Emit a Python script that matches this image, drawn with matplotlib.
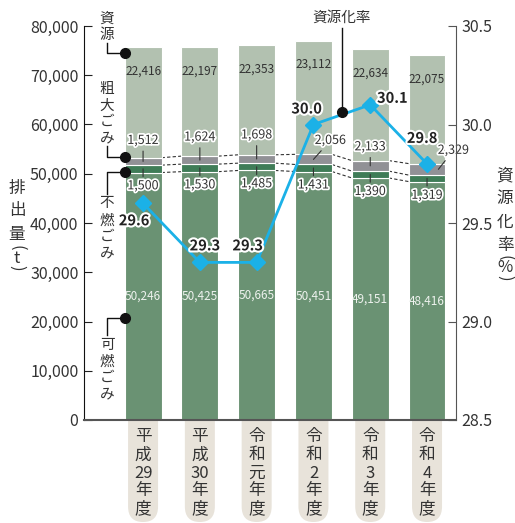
import matplotlib
matplotlib.use("Agg")
import matplotlib.pyplot as plt
import matplotlib.patheffects as pe
from matplotlib.patches import FancyBboxPatch
from matplotlib.lines import Line2D

plt.rcParams['font.family'] = ['Noto Sans CJK JP', 'DejaVu Sans']

# data
years = ['平成\n29\n年度', '平成\n30\n年度', '令和\n元\n年度', '令和\n2\n年度', '令和\n3\n年度', '令和\n4\n年度']
kanen = [50246, 50425, 50665, 50451, 49151, 48416]      # 可燃ごみ
funen = [1500, 1530, 1485, 1431, 1390, 1319]            # 不燃ごみ
sodai = [1512, 1624, 1698, 2056, 2133, 2329]            # 粗大ごみ
shigen = [22416, 22197, 22353, 23112, 22634, 22075]     # 資源
rate = [29.6, 29.3, 29.3, 30.0, 30.1, 29.8]             # 資源化率

W, H = 515, 523
C_SHIGEN = '#b2c1b0'
C_SODAI = '#919196'
C_FUNEN = '#3f7c57'
C_KANEN = '#6a9273'
C_LINE = '#1bb1e7'
C_TXT = '#333333'


def fp(x, y):
    return x / W, 1 - y / H


fig = plt.figure(figsize=(W / 100, H / 100), dpi=100)
ax = fig.add_axes([84 / W, 1 - 420 / H, (456 - 84) / W, (420 - 26) / H])
ax2 = ax.twinx()

x = list(range(len(years)))
bw = 0.65
b1 = kanen
b2 = [a + b for a, b in zip(b1, funen)]
b3 = [a + b for a, b in zip(b2, sodai)]
tops = [a + b for a, b in zip(b3, shigen)]

ax.bar(x, kanen, bw, color=C_KANEN, edgecolor='white', linewidth=0.8, zorder=2)
ax.bar(x, funen, bw, bottom=b1, color=C_FUNEN, edgecolor='white', linewidth=0.8, zorder=2)
ax.bar(x, sodai, bw, bottom=b2, color=C_SODAI, edgecolor='white', linewidth=0.8, zorder=2)
ax.bar(x, shigen, bw, bottom=b3, color=C_SHIGEN, edgecolor='white', linewidth=0.8, zorder=2)

# dashed connectors between bars
for i in range(len(x) - 1):
    for lev in (b1, b2, b3):
        ax.plot([x[i] + bw / 2, x[i + 1] - bw / 2], [lev[i], lev[i + 1]],
                ls=(0, (3, 2)), color=C_TXT, lw=0.8, zorder=1)

ax.set_xlim(-1.04, 5.51)
ax.set_ylim(0, 80000)
ax.set_yticks(range(0, 80001, 10000))
ax.set_yticklabels([f'{v:,}' for v in range(0, 80001, 10000)])
ax.set_xticks([])
ax.tick_params(axis='y', direction='in', length=6, labelsize=11.5, colors='#222', labelcolor=C_TXT, pad=4)
ax.spines['top'].set_visible(False)
ax.spines['right'].set_visible(False)
ax.spines['left'].set_color('#111')
ax.spines['bottom'].set_color('#555')
ax.spines['bottom'].set_linewidth(1.5)

ax2.set_ylim(28.5, 30.5)
ax2.set_yticks([28.5, 29.0, 29.5, 30.0, 30.5])
ax2.set_yticklabels(['28.5', '29.0', '29.5', '30.0', '30.5'])
ax2.tick_params(axis='y', direction='in', length=6, labelsize=11.5, colors='#555', labelcolor=C_TXT, pad=4)
for s in ('top', 'left', 'bottom'):
    ax2.spines[s].set_visible(False)
ax2.spines['right'].set_color('#555')

outline = [pe.withStroke(linewidth=2.5, foreground='white')]

# value labels
for i in x:
    ax.annotate(f'{shigen[i]:,}', (x[i], tops[i]), xytext=(0, -24), textcoords='offset pixels',
                ha='center', va='center', fontsize=8.5, color=C_TXT, zorder=4)
    ax.text(x[i], kanen[i] / 2, f'{kanen[i]:,}', ha='center', va='center',
            fontsize=8.5, color='#eef2ee', zorder=4)
    ax.annotate(f'{funen[i]:,}', (x[i], b1[i] + funen[i] / 2), xytext=(0, -17),
                textcoords='offset pixels', ha='center', va='center', fontsize=9,
                color=C_TXT, path_effects=outline, zorder=4,
                arrowprops=dict(arrowstyle='-', color=C_TXT, lw=0.8, shrinkA=0, shrinkB=0))

sodai_dx = [0, 0, 0, 0, 0, 0.2]
sodai_off = [(0, 21), (0, 23), (0, 24), (17, 19), (0, 19), (15, 19)]
for i in x:
    ax.annotate(f'{sodai[i]:,}', (x[i] + sodai_dx[i], b2[i] + sodai[i] / 2),
                xytext=sodai_off[i], textcoords='offset pixels', ha='center', va='center',
                fontsize=9, color=C_TXT, path_effects=outline, zorder=4,
                arrowprops=dict(arrowstyle='-', color=C_TXT, lw=0.8, shrinkA=1, shrinkB=0))

# recycling rate line
ax2.plot(x, rate, color=C_LINE, lw=2, marker='D', markersize=8, zorder=5)
rate_off = [(-9, -17), (5, 17), (-9, 17), (-7, 16), (22, 7), (-5, 26)]
for i in x:
    ax2.annotate(f'{rate[i]:.1f}', (x[i], rate[i]), xytext=rate_off[i], textcoords='offset pixels',
                 ha='center', va='center', fontsize=10.5, fontweight='bold', color='#222',
                 path_effects=[pe.withStroke(linewidth=3, foreground='white')], zorder=6)


def vtext(xp, ys, chars, size, **kw):
    for y, c in zip(ys, chars):
        fig.text(*fp(xp, y), c, ha='center', va='center', fontsize=size, color=C_TXT, **kw)


def vparen(xp, y0, inner, size):
    # vertical "(x)" : parentheses turned sideways
    fig.text(*fp(xp, y0), '(', ha='center', va='center', fontsize=size, color=C_TXT, rotation=-90)
    fig.text(*fp(xp, y0 + 10), inner, ha='center', va='center', fontsize=size, color=C_TXT)
    fig.text(*fp(xp, y0 + 20), ')', ha='center', va='center', fontsize=size, color=C_TXT, rotation=-90)


# legend labels on the left
vtext(107, [19, 35], '資源', 10.5)
vtext(107, [89, 106, 122, 138], '粗大ごみ', 10.5)
vtext(107, [203, 221, 237, 253], '不燃ごみ', 10.5)
vtext(107, [345, 362, 378, 394], '可燃ごみ', 10.5)

lk = dict(color='#111', lw=1, transform=fig.transFigure)
def leader(pts, dot):
    xs, ys = zip(*[fp(a, b) for a, b in pts])
    fig.add_artist(Line2D(xs, ys, **lk))
    fig.add_artist(Line2D([fp(*dot)[0]], [fp(*dot)[1]], marker='o', markersize=7,
                          color='#111', transform=fig.transFigure))


leader([(107, 43), (107, 53), (125, 53)], (125, 53))
leader([(107, 146), (107, 157), (125, 157)], (125, 157))
leader([(107, 194), (107, 172), (125, 172)], (125, 172))
leader([(107, 335), (107, 318), (125, 318)], (125, 318))

# rate label at top
fig.text(*fp(342, 18), '資源化率', ha='center', va='center', fontsize=10.5, color=C_TXT)
leader([(342, 28), (342, 112)], (342, 112))

# axis titles
vtext(17, [188, 211, 234], '排出量', 12)
vparen(17, 248, 't', 12)
vtext(505, [176, 199, 222, 245], '資源化率', 12)
vparen(505, 258, '%', 12)

# year labels in pills
for i in x:
    xpix = ax.transData.transform((x[i], 0))[0]
    fig.add_artist(FancyBboxPatch((xpix / W - 15 / W, fp(0, 522)[1]), 30 / W, 120 / H,
                                  boxstyle=f'round,pad=0,rounding_size={15 / W}',
                                  transform=fig.transFigure, facecolor='#e8e3da',
                                  edgecolor='none', zorder=-1, mutation_aspect=H / W))
    lines = years[i].split('\n')
    chars = list(lines[0]) + [lines[1]] + list(lines[2])
    vtext(xpix, [436, 455, 473, 491, 509], chars, 12)

fig.savefig('out.png', dpi=100)
